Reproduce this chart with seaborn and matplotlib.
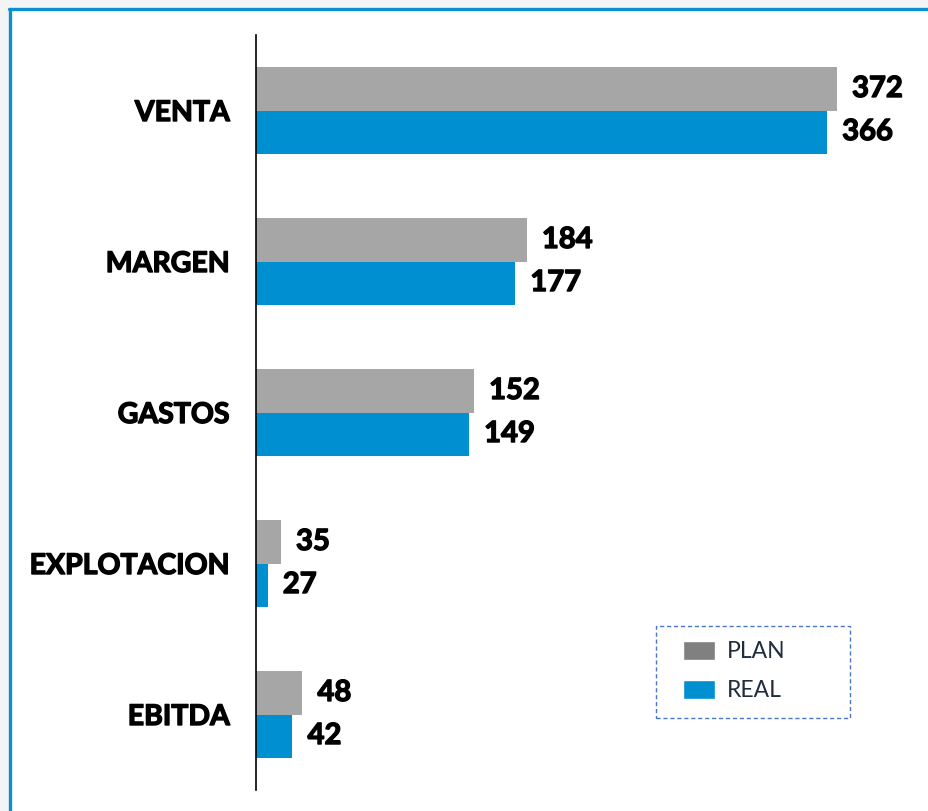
import matplotlib
matplotlib.use("Agg")
import matplotlib.pyplot as plt
from matplotlib.patches import Patch, Rectangle
from matplotlib.lines import Line2D
import matplotlib.patheffects as pe
import pandas as pd
import seaborn as sns

categories = ["VENTA", "MARGEN", "GASTOS", "EXPLOTACION", "EBITDA"]
plan_values = [372, 184, 152, 35, 48]
real_values = [366, 177, 149, 27, 42]
series_names = ["PLAN", "REAL"]

BAR_GREY = "#a6a6a6"
LEGEND_GREY = "#808080"
BLUE = "#008fd0"

df = pd.DataFrame({
    "categoria": categories * 2,
    "valor": plan_values + real_values,
    "serie": [series_names[0]] * len(categories) + [series_names[1]] * len(categories),
})

sns.set_style("white")
plt.rcParams["font.family"] = ["Lato", "DejaVu Sans"]

W, H = 929, 811
fig = plt.figure(figsize=(W / 100, H / 100), dpi=100)
fig.patch.set_facecolor("#f4f4f4")

# white card with blue border on top and left
fig.add_artist(Rectangle((10 / W, 0), 1, 1 - 9 / H, transform=fig.transFigure,
                         facecolor="white", edgecolor="none", zorder=0))
fig.add_artist(Line2D([10.5 / W, 10.5 / W], [0, 1 - 8.5 / H], transform=fig.transFigure,
                      color="#0a8fd1", linewidth=2.4, zorder=1))
fig.add_artist(Line2D([9.5 / W, 1], [1 - 8.5 / H, 1 - 8.5 / H], transform=fig.transFigure,
                      color="#0a8fd1", linewidth=2.4, zorder=1))

# axis starts at 20, not at 0 (as in the original chart)
x_min, x_max = 20, 400
px_per_unit = 1.65
ax = fig.add_axes([256 / W, 1 - 790 / H, (x_max - x_min) * px_per_unit / W, 755 / H])
ax.set_facecolor("none")

sns.barplot(data=df, y="categoria", x="valor", hue="serie", orient="h",
            palette={"PLAN": BAR_GREY, "REAL": BLUE}, width=0.57,
            saturation=1, legend=False, linewidth=0, ax=ax)

heavy = [pe.withStroke(linewidth=1.0, foreground="black")]
for container in ax.containers:
    labels = ax.bar_label(container, padding=11, fontsize=21, fontweight="bold", color="black")
    for t in labels:
        t.set_path_effects(heavy)

ax.set_xlim(x_min, x_max)
ax.set_ylim(4.5, -0.5)
ax.set_xlabel("")
ax.set_ylabel("")
ax.set_xticks([])
ax.tick_params(axis="y", length=0, pad=19)
for lbl in ax.get_yticklabels():
    lbl.set_fontsize(20.5)
    lbl.set_fontweight("bold")
    lbl.set_color("black")
    lbl.set_path_effects(heavy)

for side in ["top", "right", "bottom"]:
    ax.spines[side].set_visible(False)
ax.spines["left"].set_color("black")
ax.spines["left"].set_linewidth(1.2)

# legend: entries plus a dashed box drawn separately
handles = [Patch(facecolor=LEGEND_GREY, label="PLAN"), Patch(facecolor=BLUE, label="REAL")]
leg = fig.legend(handles=handles, loc="upper left",
                 bbox_to_anchor=(683 / W, 1 - 641 / H), frameon=False,
                 fontsize=16.5, handlelength=1.4, handleheight=0.9,
                 borderpad=0, labelspacing=0.75, handletextpad=0.5, borderaxespad=0)
for t in leg.get_texts():
    t.set_color("#1f2d3d")
fig.add_artist(Rectangle((656 / W, 1 - 718 / H), 194 / W, 92 / H, transform=fig.transFigure,
                         facecolor="none", edgecolor="#4a78c8", linewidth=1,
                         linestyle=(0, (3, 2))))

fig.savefig("out.png", dpi=100, facecolor=fig.get_facecolor())
